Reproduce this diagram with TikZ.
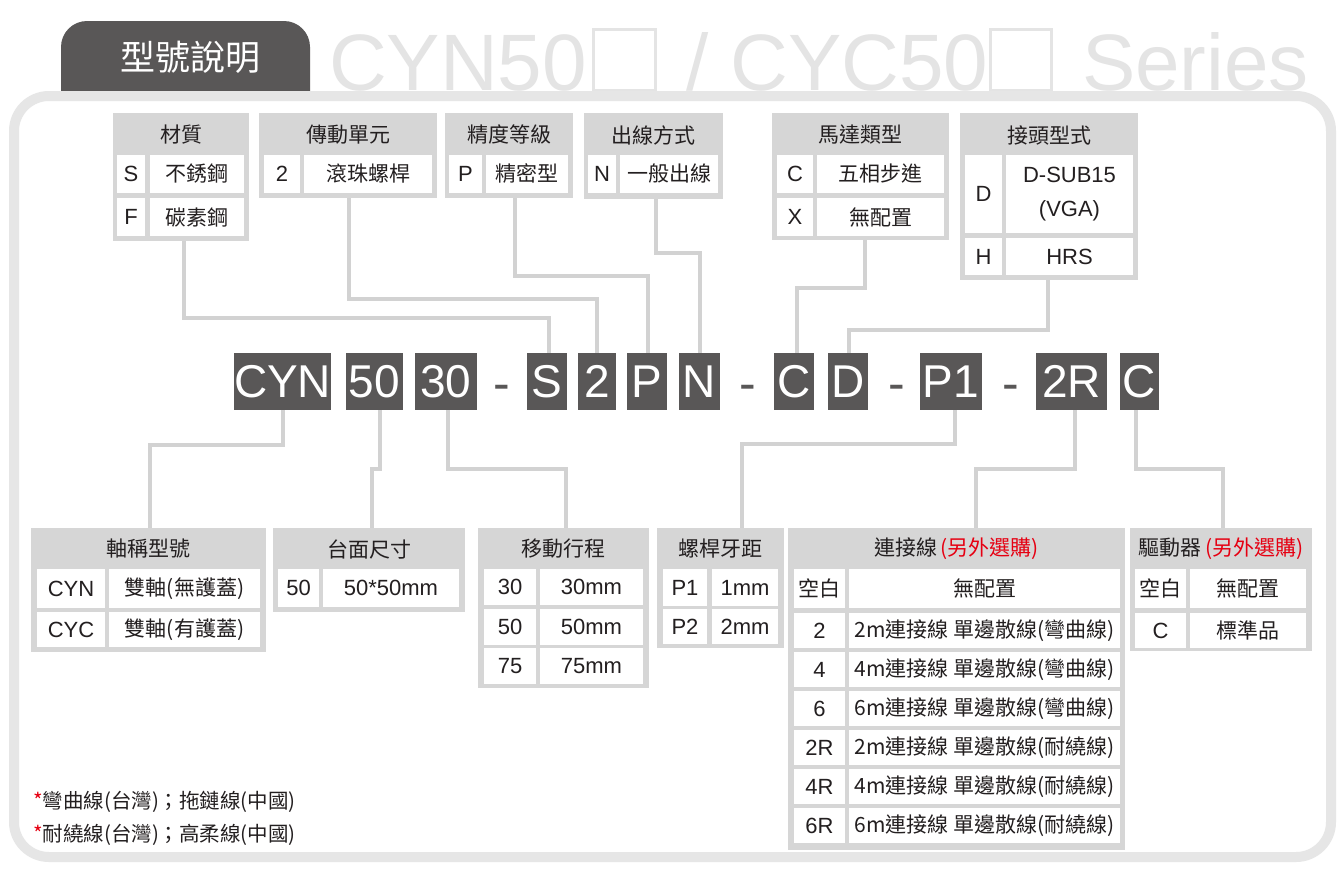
\documentclass[tikz,border=0pt]{standalone}
\usepackage{fontspec}
\setmainfont{Liberation Sans}
\newfontfamily\cjk{Noto Sans CJK TC}
\usetikzlibrary{calc}
\definecolor{dk}{HTML}{595757}
\definecolor{tg}{HTML}{D6D6D6}
\definecolor{lg}{HTML}{D2D2D2}
\definecolor{fr}{HTML}{E6E6E6}
\definecolor{tt}{HTML}{E4E4E4}
\definecolor{rd}{HTML}{E60012}
\definecolor{txt}{HTML}{231F20}
\begin{document}
\begin{tikzpicture}[x=1pt,y=-1pt,
  every node/.style={inner sep=0pt,outer sep=0pt},
  tbl/.style={fill=tg,anchor=north west},
  cl/.style={fill=white,anchor=north west,text=txt,font=\fontsize{22}{26}\selectfont},
  cc/.style={fill=white,anchor=north west,text=txt,font=\cjk\fontsize{21}{26}\selectfont},
  hdr/.style={text=txt,font=\cjk\fontsize{21}{26}\selectfont},
  codebox/.style={fill=dk,text=white,anchor=north west,minimum height=57,font=\fontsize{46}{50}\selectfont},
  hyph/.style={text=dk,anchor=base,font=\fontsize{50}{54}\selectfont},
  conn/.style={draw=lg,line width=4},
  ttl/.style={text=tt,anchor=base west,font=\fontsize{80}{80}\selectfont},
  tbox/.style={draw=tt,line width=3,fill=white,anchor=north west},
  note/.style={anchor=west,text=txt,font=\cjk\fontsize{20.5}{24}\selectfont}]
\useasboundingbox (0,0) rectangle (1344,876);
\fill[white] (0,0) rectangle (1344,876);
% title
\node[ttl] (ti1) at (329,90) {CYN50};
\node[tbox,minimum width=62,minimum height=61] (tb1) at (593,29) {};
\node[ttl] (ti2) at (686,90) {/ CYC50};
\node[tbox,minimum width=61,minimum height=61] (tb2) at (990,29) {};
\node[ttl] (ti3) at (1082,90) {Series};
% tab
\fill[dk] (61,96) [rounded corners=26] -- (61,21) -- (310,21) [sharp corners] -- (310,96) -- cycle;
\node[text=white,font=\cjk\fontsize{35}{40}\selectfont] (tabt) at (190,57) {型號說明};
% frame
\draw[fr,line width=10,rounded corners=35] (14,96) rectangle (1331,857);

% ---------- top tables ----------
\node[tbl,minimum width=136,minimum height=128] (tMat) at (113,113) {};
\node[hdr] (hMat) at (181,135) {材質};
\node[cl,minimum width=28,minimum height=38] (a1) at (117,155) {S};
\node[cc,minimum width=94,minimum height=38] (a2) at (150,155) {不銹鋼};
\node[cl,minimum width=28,minimum height=38] (a3) at (117,198) {F};
\node[cc,minimum width=94,minimum height=38] (a4) at (150,198) {碳素鋼};

\node[tbl,minimum width=178,minimum height=85] (tDrv) at (259,113) {};
\node[hdr] (hDrv) at (348,135) {傳動單元};
\node[cl,minimum width=36,minimum height=38] (b1) at (264,155) {2};
\node[cc,minimum width=128,minimum height=38] (b2) at (304,155) {滾珠螺桿};

\node[tbl,minimum width=128,minimum height=85] (tPrec) at (445,113) {};
\node[hdr] (hPrec) at (509,135) {精度等級};
\node[cl,minimum width=33,minimum height=38] (c1) at (449,155) {P};
\node[cc,minimum width=82,minimum height=38] (c2) at (486,155) {精密型};

\node[tbl,minimum width=139,minimum height=86] (tOut) at (584,113) {};
\node[hdr] (hOut) at (653.5,135) {出線方式};
\node[cl,minimum width=28,minimum height=38] (d1) at (588,155) {N};
\node[cc,minimum width=98,minimum height=38] (d2) at (620,155) {一般出線};

\node[tbl,minimum width=177,minimum height=127] (tMot) at (772,113) {};
\node[hdr] (hMot) at (860.5,135) {馬達類型};
\node[cl,minimum width=36,minimum height=38] (e1) at (777,155) {C};
\node[cc,minimum width=127,minimum height=38] (e2) at (817,155) {五相步進};
\node[cl,minimum width=36,minimum height=38] (e3) at (777,198) {X};
\node[cc,minimum width=127,minimum height=38] (e4) at (817,198) {無配置};

\node[tbl,minimum width=178,minimum height=167] (tCon) at (960,113) {};
\node[hdr] (hCon) at (1049,135) {接頭型式};
\node[cl,minimum width=37,minimum height=78] (f1) at (965,155) {D};
\node[cl,minimum width=127,minimum height=78,align=center,font=\fontsize{22}{34}\selectfont] (f2) at (1006,155) {D-SUB15\\(VGA)};
\node[cl,minimum width=37,minimum height=37] (f3) at (965,238) {H};
\node[cl,minimum width=127,minimum height=37] (f4) at (1006,238) {HRS};

% ---------- code row ----------
\node[codebox,minimum width=96] (cCYN) at (234,353) {CYN};
\node[codebox,minimum width=57] (c50) at (346,353) {50};
\node[codebox,minimum width=62] (c30) at (415,353) {30};
\node[hyph] (h1) at (502,400) {-};
\node[codebox,minimum width=40] (cS) at (527,353) {S};
\node[codebox,minimum width=38] (c2b) at (578,353) {2};
\node[codebox,minimum width=40] (cP) at (627,353) {P};
\node[codebox,minimum width=41] (cN) at (679,353) {N};
\node[hyph] (h2) at (748,400) {-};
\node[codebox,minimum width=40] (cC) at (774,353) {C};
\node[codebox,minimum width=40] (cD) at (828,353) {D};
\node[hyph] (h3) at (897,400) {-};
\node[codebox,minimum width=62] (cP1) at (920,353) {P1};
\node[hyph] (h4) at (1011,400) {-};
\node[codebox,minimum width=71] (c2R) at (1036,353) {2R};
\node[codebox,minimum width=39] (cC2) at (1120,353) {C};

% ---------- bottom tables ----------
\node[tbl,minimum width=235,minimum height=124] (tAxis) at (31,528) {};
\node[hdr] (hAxis) at (148.5,549) {軸稱型號};
\node[cl,minimum width=68,minimum height=39] (g1) at (37,569) {CYN};
\node[cc,minimum width=151,minimum height=39] (g2) at (109,569) {雙軸(無護蓋)};
\node[cl,minimum width=68,minimum height=35] (g3) at (37,612) {CYC};
\node[cc,minimum width=151,minimum height=35] (g4) at (109,612) {雙軸(有護蓋)};

\node[tbl,minimum width=192,minimum height=84] (tTab) at (273,528) {};
\node[hdr] (hTab) at (369,549) {台面尺寸};
\node[cl,minimum width=41,minimum height=38] (i1) at (278,569) {50};
\node[cl,minimum width=136,minimum height=38] (i2) at (323,569) {50*50mm};

\node[tbl,minimum width=171,minimum height=160] (tStr) at (478,528) {};
\node[hdr] (hStr) at (563.5,549) {移動行程};
\node[cl,minimum width=52,minimum height=36] (j1) at (484,569) {30};
\node[cl,minimum width=103,minimum height=36] (j2) at (540,569) {30mm};
\node[cl,minimum width=52,minimum height=36] (j3) at (484,609) {50};
\node[cl,minimum width=103,minimum height=36] (j4) at (540,609) {50mm};
\node[cl,minimum width=52,minimum height=36] (j5) at (484,648) {75};
\node[cl,minimum width=103,minimum height=36] (j6) at (540,648) {75mm};

\node[tbl,minimum width=127,minimum height=120] (tPitch) at (657,528) {};
\node[hdr] (hPitch) at (720.5,549) {螺桿牙距};
\node[cl,minimum width=44,minimum height=37] (k1n) at (663,569) {P1};
\node[cl,minimum width=66,minimum height=37] (k2n) at (712,569) {1mm};
\node[cl,minimum width=44,minimum height=35] (k3n) at (663,609) {P2};
\node[cl,minimum width=66,minimum height=35] (k4n) at (712,609) {2mm};

\node[tbl,minimum width=337,minimum height=322] (tCab) at (788,528) {};
\node[hdr] (hCab) at (956.5,549) {連接線\,\textcolor{rd}{(另外選購)}};
\node[cc,minimum width=51,minimum height=39] (m1) at (794,569) {空白};
\node[cc,minimum width=271,minimum height=39] (m2) at (849,569) {無配置};
\node[cl,minimum width=51,minimum height=35] (m3) at (794,613) {2};
\node[cc,minimum width=271,minimum height=35] (m4) at (849,613) {2m連接線 單邊散線(彎曲線)};
\node[cl,minimum width=51,minimum height=35] (m5) at (794,652) {4};
\node[cc,minimum width=271,minimum height=35] (m6) at (849,652) {4m連接線 單邊散線(彎曲線)};
\node[cl,minimum width=51,minimum height=35] (m7) at (794,691) {6};
\node[cc,minimum width=271,minimum height=35] (m8) at (849,691) {6m連接線 單邊散線(彎曲線)};
\node[cl,minimum width=51,minimum height=35] (m9) at (794,730) {2R};
\node[cc,minimum width=271,minimum height=35] (m10) at (849,730) {2m連接線 單邊散線(耐繞線)};
\node[cl,minimum width=51,minimum height=35] (m11) at (794,769) {4R};
\node[cc,minimum width=271,minimum height=35] (m12) at (849,769) {4m連接線 單邊散線(耐繞線)};
\node[cl,minimum width=51,minimum height=35] (m13) at (794,808) {6R};
\node[cc,minimum width=271,minimum height=35] (m14) at (849,808) {6m連接線 單邊散線(耐繞線)};

\node[tbl,minimum width=182,minimum height=123] (tDrvr) at (1130,528) {};
\node[hdr] (hDrvr) at (1221,549) {驅動器\,\textcolor{rd}{(另外選購)}};
\node[cc,minimum width=51,minimum height=39] (p1) at (1135,569) {空白};
\node[cc,minimum width=116,minimum height=39] (p2) at (1190,569) {無配置};
\node[cl,minimum width=51,minimum height=35] (p3) at (1135,613) {C};
\node[cc,minimum width=116,minimum height=35] (p4) at (1190,613) {標準品};

% ---------- connectors ----------
\coordinate (k1) at (549,318);
\coordinate (k2) at (597,299);
\coordinate (k3) at (648,276);
\coordinate (k4) at (700,253);
\coordinate (k5) at (797,288);
\coordinate (k6) at (849,330);
\coordinate (k7) at (150,445);
\coordinate (k8) at (372,469);
\coordinate (k9) at (566,469);
\coordinate (k10) at (742,444);
\coordinate (k11) at (976,469);
\coordinate (k12) at (1223,469);
\draw[conn] ([xshift=3]tMat.south) |- (k1) -- ([xshift=2]cS.north);
\draw[conn] ([xshift=1]tDrv.south) |- (k2) -- (c2b.north);
\draw[conn] ([xshift=6]tPrec.south) |- (k3) -- ([xshift=1]cP.north);
\draw[conn] ([xshift=2.5]tOut.south) |- (k4) -- ([xshift=0.5]cN.north);
\draw[conn] ([xshift=4.5]tMot.south) |- (k5) -- ([xshift=3]cC.north);
\draw[conn] ([xshift=-1]tCon.south) |- (k6) -- ([xshift=1]cD.north);
\draw[conn] (cCYN.south) |- (k7) -- ([xshift=1.5]tAxis.north);
\draw[conn] ([xshift=5.5]c50.south) |- (k8) -- ([xshift=3]tTab.north);
\draw[conn] ([xshift=2]c30.south) |- (k9) -- ([xshift=2.5]tStr.north);
\draw[conn] ([xshift=4]cP1.south) |- (k10) -- ([xshift=21.5]tPitch.north);
\draw[conn] ([xshift=3.5]c2R.south) |- (k11) -- ([xshift=19.5]tCab.north);
\draw[conn] ([xshift=-3.5]cC2.south) |- (k12) -- ([xshift=2]tDrvr.north);

% ---------- notes ----------
\node[note] (n1) at (33,802) {\textcolor{rd}{*}彎曲線(台灣)；拖鏈線(中國)};
\node[note] (n2) at (33,835) {\textcolor{rd}{*}耐繞線(台灣)；高柔線(中國)};
\end{tikzpicture}
\end{document}
